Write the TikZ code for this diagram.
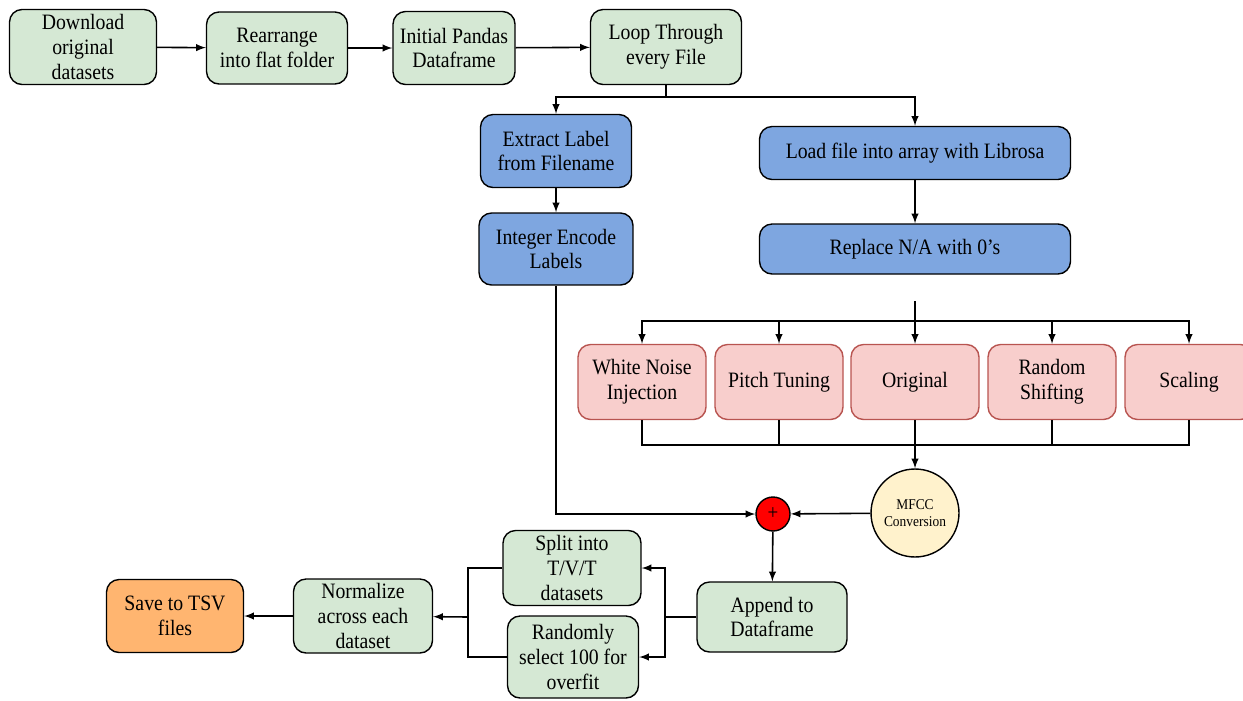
\documentclass[tikz,border=0pt]{standalone}
\usepackage{fontspec}
\setmainfont{Liberation Serif}[FakeStretch=0.9]
\usetikzlibrary{positioning}
\definecolor{greenfill}{HTML}{D5E8D4}
\definecolor{bluefill}{HTML}{7EA6E0}
\definecolor{pinkfill}{HTML}{F8CECC}
\definecolor{pinkdraw}{HTML}{B85450}
\definecolor{orangefill}{HTML}{FFB570}
\definecolor{yellowfill}{HTML}{FFF2CC}

\begin{document}
\begin{tikzpicture}[x=0.02cm, y=-0.02cm]
    \tikzstyle{base}=[rectangle, rounded corners=2.5mm, draw=black, thick, align=center, inner sep=2pt, font=\fontsize{12.5}{14}\selectfont]
    \tikzstyle{greenbox}=[base, fill=greenfill]
    \tikzstyle{bluebox}=[base, fill=bluefill]
    \tikzstyle{pinkbox}=[base, fill=pinkfill, draw=pinkdraw, minimum width=2.56cm, minimum height=1.5cm]
    \tikzstyle{orangebox}=[base, fill=orangefill]
    \tikzstyle{connect}=[-latex, line width=0.9pt]
    \tikzstyle{wire}=[line width=0.9pt]
    \useasboundingbox (0,0) rectangle (1243,700);
      % top row
      \node[greenbox, minimum width=2.94cm, minimum height=1.5cm] (download) at (83,47) {Download\\original\\datasets};
      \node[greenbox, minimum width=2.82cm, minimum height=1.44cm] (rearrange) at (277,48) {Rearrange\\into flat folder};
      \node[greenbox, minimum width=2.44cm, minimum height=1.46cm] (pandas) at (454,48) {Initial Pandas\\Dataframe};
      \node[greenbox, minimum width=3.02cm, minimum height=1.5cm] (loop) at (666,47) {Loop Through\\every File};
      \draw[connect] (download) -- (rearrange);
      \draw[connect] (rearrange) -- (pandas);
      \draw[connect] (pandas) -- (loop);
      % label branch
      \node[bluebox, minimum width=3.02cm, minimum height=1.46cm] (extract) at (556,151) {Extract Label\\from Filename};
      \node[bluebox, minimum width=3.08cm, minimum height=1.44cm] (integer) at (556,249) {Integer Encode\\Labels};
      % audio branch
      \node[bluebox, minimum width=6.22cm, minimum height=1.06cm] (load) at (915,153) {Load file into array with Librosa};
      \node[bluebox, minimum width=6.22cm, minimum height=1.0cm] (replace) at (915,249) {Replace N/A with 0's};
      \coordinate (fork) at (666,97);
      \draw[wire] (loop) -- (fork);
      \draw[connect] (fork) -| (extract);
      \draw[connect] (fork) -| (load);
      \draw[connect] (extract) -- (integer);
      \draw[connect] (load) -- (replace);
      % augmentations
      \node[pinkbox] (noise) at (642,382) {White Noise\\Injection};
      \node[pinkbox] (pitch) at (779,382) {Pitch Tuning};
      \node[pinkbox] (original) at (915,382) {Original};
      \node[pinkbox] (shifting) at (1052,382) {Random\\Shifting};
      \node[pinkbox] (scaling) at (1189,382) {Scaling};
      \coordinate (augtop) at (915,301);
      \coordinate (augbus) at (915,321);
      \coordinate (mergebus) at (915,445);
      \draw[connect] (augtop) -- (original);
      \foreach \n in {noise, pitch, shifting, scaling}
        \draw[connect] (augbus) -| (\n);
      \foreach \n in {noise, pitch, shifting, scaling}
        \draw[wire] (\n) |- (mergebus);
      % merge
      \node[circle, draw=black, thick, fill=yellowfill, minimum size=1.76cm, inner sep=0pt, align=center, font=\fontsize{8.5}{10}\selectfont] (mfcc) at (915,513) {MFCC\\Conversion};
      \node[circle, draw=black, thick, fill=red, minimum size=0.68cm, inner sep=0pt, font=\large] (plus) at (773,514) {+};
      \draw[connect] (original) -- (mfcc);
      \draw[connect] (mfcc) -- (plus);
      \draw[connect] (integer) |- (plus);
      % output
      \node[greenbox, minimum width=3.0cm, minimum height=1.4cm] (append) at (772,617) {Append to\\Dataframe};
      \node[greenbox, minimum width=2.76cm, minimum height=1.5cm] (split) at (572,568) {Split into\\T/V/T\\datasets};
      \node[greenbox, minimum width=2.62cm, minimum height=1.64cm] (random) at (573,657) {Randomly\\select 100 for\\overfit};
      \node[greenbox, minimum width=2.78cm, minimum height=1.48cm] (normalize) at (363,616) {Normalize\\across each\\dataset};
      \node[orangebox, minimum width=2.74cm, minimum height=1.46cm] (save) at (175,616) {Save to TSV\\files};
      \coordinate (appfork) at (665,617);
      \coordinate (normjoin) at (468,617);
      \draw[connect] (plus) -- (append);
      \draw[wire] (append) -- (appfork);
      \draw[connect] (appfork) |- (split);
      \draw[connect] (appfork) |- (random);
      \draw[wire] (split) -| (normjoin);
      \draw[wire] (random) -| (normjoin);
      \draw[connect] (normjoin) -- (normalize);
      \draw[connect] (normalize) -- (save);
\end{tikzpicture}
\end{document}
